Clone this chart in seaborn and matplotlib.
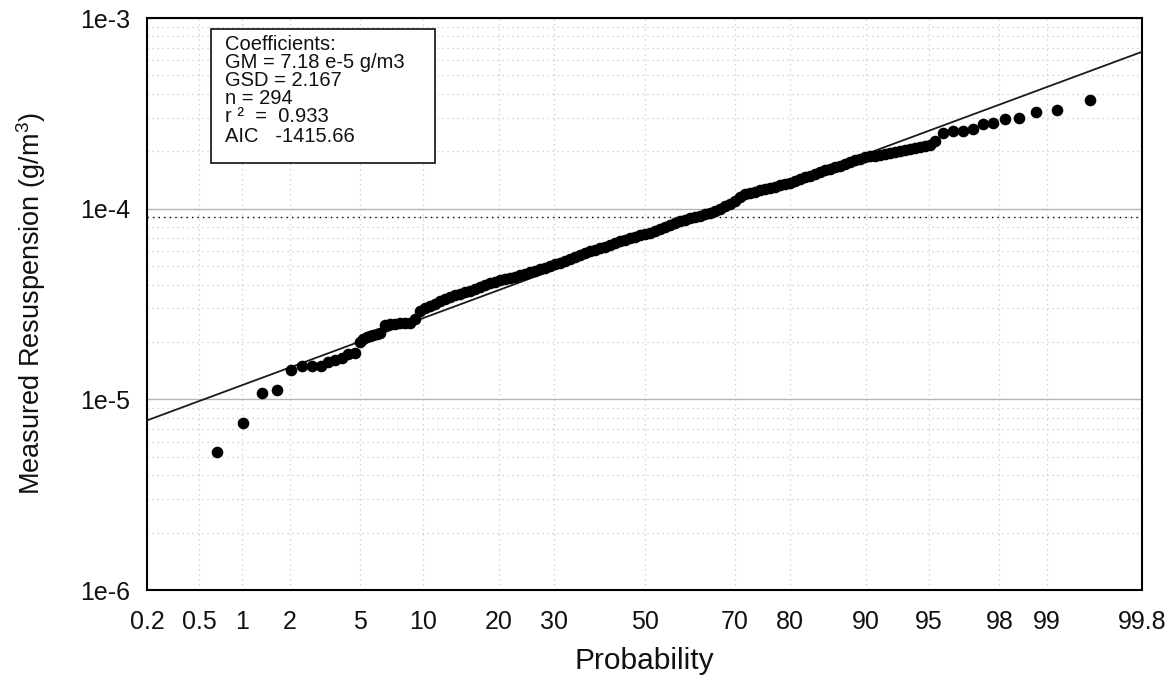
from statistics import NormalDist

import matplotlib

matplotlib.use("Agg")
import matplotlib.pyplot as plt
import numpy as np
import pandas as pd
import seaborn as sns
from matplotlib.patches import Rectangle
from matplotlib.ticker import FixedFormatter, FixedLocator, LogLocator, NullFormatter, NullLocator

# Probability plot values (probability in %, resuspension in 1e-5 g/m3)
probability = [
    # lower tail
    0.67, 1.01, 1.35, 1.68, 2.03, 2.37, 2.71, 3.05, 3.37, 3.67, 3.99, 4.33, 4.70,
    4.99, 5.17, 5.40, 5.61, 5.83, 6.07, 6.30,
    # dense middle band
    6.66, 7.05, 7.45, 7.86, 8.29, 8.74, 9.21, 9.70, 10.21, 10.73, 11.28, 11.84,
    12.42, 13.02, 13.65, 14.29, 14.95, 15.64, 16.34, 17.06, 17.81, 18.57, 19.35,
    20.16, 20.98, 21.82, 22.69, 23.57, 24.47, 25.38, 26.32, 27.27, 28.24, 29.23,
    30.23, 31.25, 32.28, 33.32, 34.38, 35.45, 36.53, 37.62, 38.73, 39.84, 40.96,
    42.09, 43.22, 44.36, 45.51, 46.66, 47.81, 48.96, 50.12, 51.27, 52.42, 53.57,
    54.72, 55.86, 57.00, 58.14, 59.26, 60.38, 61.49, 62.59, 63.68, 64.76, 65.83,
    66.89, 67.93, 68.96, 69.97, 70.97, 71.95, 72.92, 73.87, 74.80, 75.71, 76.61,
    77.49, 78.35, 79.18, 80.00, 80.80, 81.58, 82.34, 83.08, 83.80, 84.50, 85.18,
    85.84, 86.48, 87.10, 87.70, 88.28, 88.84, 89.37, 89.90, 90.40, 90.88, 91.35,
    91.79, 92.22, 92.64, 93.03, 93.41, 93.77, 94.12, 94.45, 94.77, 95.07, 95.36,
    # upper tail
    95.80, 96.30, 96.74, 97.12, 97.48, 97.80, 98.15, 98.48, 98.82, 99.15, 99.50,
]
resuspension_e5 = [
    0.532, 0.755, 1.076, 1.12, 1.426, 1.497, 1.49, 1.497, 1.565, 1.609, 1.655, 1.73, 1.758,
    2.007, 2.062, 2.116, 2.142, 2.168, 2.195, 2.221,
    2.461, 2.486, 2.495, 2.507, 2.516, 2.525, 2.630, 2.890, 2.997, 3.089, 3.164, 3.261,
    3.361, 3.422, 3.505, 3.557, 3.636, 3.711, 3.778, 3.862, 3.965, 4.053, 4.137,
    4.212, 4.268, 4.330, 4.404, 4.479, 4.555, 4.634, 4.712, 4.804, 4.904, 5.012,
    5.109, 5.209, 5.336, 5.473, 5.600, 5.731, 5.856, 5.971, 6.087, 6.206, 6.327,
    6.451, 6.592, 6.745, 6.869, 6.987, 7.105, 7.279, 7.350, 7.493, 7.640, 7.854,
    8.037, 8.234, 8.436, 8.588, 8.736, 8.884, 9.036, 9.191, 9.335, 9.517, 9.750,
    10.00, 10.27, 10.58, 10.91, 11.45, 11.90, 12.09, 12.27, 12.46, 12.66, 12.84,
    13.06, 13.27, 13.48, 13.69, 13.99, 14.30, 14.61, 14.88, 15.11, 15.62, 15.88,
    16.19, 16.50, 16.79, 17.19, 17.62, 18.01, 18.27, 18.56, 18.78, 18.99, 19.17,
    19.39, 19.60, 19.86, 20.10, 20.40, 20.62, 20.82, 21.02, 21.28, 21.66, 22.51,
    24.85, 25.55, 25.55, 26.08, 27.74, 28.05, 29.60, 29.96, 32.26, 33.09, 36.97,
]

# Fitted lognormal coefficients shown in the box
GM = 7.18e-5
GSD = 2.167
N = 294
R2 = 0.933
AIC = -1415.66

x_ticks = [0.2, 0.5, 1, 2, 5, 10, 20, 30, 50, 70, 80, 90, 95, 98, 99, 99.8]
x_tick_labels = ["0.2", "0.5", "1", "2", "5", "10", "20", "30", "50", "70", "80",
                 "90", "95", "98", "99", "99.8"]
y_ticks = [1e-6, 1e-5, 1e-4, 1e-3]
y_tick_labels = ["1e-6", "1e-5", "1e-4", "1e-3"]

ND = NormalDist()


def prob_to_z(p):
    p = np.clip(np.asarray(p, dtype=float) / 100.0, 1e-9, 1 - 1e-9)
    return np.vectorize(ND.inv_cdf, otypes=[float])(p)


def z_to_prob(z):
    return np.vectorize(ND.cdf, otypes=[float])(np.asarray(z, dtype=float)) * 100.0


def main():
    df = pd.DataFrame({
        "Probability": probability,
        "Resuspension": np.array(resuspension_e5) * 1e-5,
    })

    sns.set_style("white")
    plt.rcParams["font.family"] = ["Liberation Sans", "DejaVu Sans"]
    plt.rcParams["mathtext.default"] = "regular"

    W, H = 1173, 681
    fig = plt.figure(figsize=(W / 100, H / 100), dpi=100)
    left, right, top, bottom = 147, 1142, 18, 590
    ax = fig.add_axes([left / W, 1 - bottom / H, (right - left) / W, (bottom - top) / H])

    sns.scatterplot(data=df, x="Probability", y="Resuspension", ax=ax,
                    color="black", s=70, linewidth=0, zorder=4)

    ax.set_xscale("function", functions=(prob_to_z, z_to_prob))
    ax.set_yscale("log")
    ax.set_xlim(0.2, 99.8)
    ax.set_ylim(1e-6, 1e-3)

    # fitted line
    xs = np.array([0.2, 99.8])
    ys = GM * GSD ** prob_to_z(xs)
    ax.plot(xs, ys, color="#1a1a1a", lw=1.3, zorder=3)

    ax.xaxis.set_major_locator(FixedLocator(x_ticks))
    ax.xaxis.set_major_formatter(FixedFormatter(x_tick_labels))
    ax.xaxis.set_minor_locator(NullLocator())
    ax.yaxis.set_major_locator(FixedLocator(y_ticks))
    ax.yaxis.set_major_formatter(FixedFormatter(y_tick_labels))
    ax.yaxis.set_minor_locator(LogLocator(base=10, subs=np.arange(2, 10)))
    ax.yaxis.set_minor_formatter(NullFormatter())

    ax.grid(axis="x", which="major", color="#c8c8c8", lw=0.9, ls=(0, (1, 3)), zorder=0)
    ax.grid(axis="y", which="major", color="#b4b4b4", lw=1.0, ls="-", zorder=0)
    ax.grid(axis="y", which="minor", color="#c8c8c8", lw=0.9, ls=(0, (1, 3)), zorder=0)
    ax.axhline(9e-5, color="black", lw=1.0, ls=(0, (1, 3)), zorder=1)

    ax.tick_params(axis="both", which="major", direction="out", length=6.2, width=1.2,
                   color="black", labelsize=18, labelcolor="#111111")
    ax.tick_params(axis="x", pad=8)
    ax.tick_params(axis="y", pad=6)
    ax.tick_params(axis="y", which="minor", length=0)
    for sp in ax.spines.values():
        sp.set_color("black")
        sp.set_linewidth(1.5)

    ax.set_xlabel("Probability", fontsize=21.5, color="#111111")
    ax.set_ylabel("Measured Resuspension (g/m$^3$)", fontsize=19.5, color="#111111")
    ax.xaxis.set_label_coords(0.5, -0.1)
    ax.yaxis.set_label_coords(-0.099, 0.5)

    # coefficient box
    def ax_xy(px, py):
        return (px - left) / (right - left), (bottom - py) / (bottom - top)

    x0, y1 = ax_xy(211, 29)
    x1, y0 = ax_xy(435, 163)
    ax.add_patch(Rectangle((x0, y0), x1 - x0, y1 - y0, transform=ax.transAxes,
                           facecolor="white", edgecolor="#222222", lw=1.3, zorder=5))
    lines = [
        "Coefficients:",
        f"GM = {GM / 1e-5:.2f} e-5 g/m3",
        f"GSD = {GSD:.3f}",
        f"n = {N}",
        f"r \u00b2  =  {R2:.3f}",
        f"AIC   {AIC:.2f}",
    ]
    baselines = [50, 68.5, 86, 104.5, 122.5, 141.5]
    for txt, by in zip(lines, baselines):
        tx, ty = ax_xy(225, by)
        ax.text(tx, ty, txt, transform=ax.transAxes, fontsize=14.5, color="#111111",
                ha="left", va="baseline", zorder=6)

    fig.savefig("out.png", dpi=100)


if __name__ == "__main__":
    main()
